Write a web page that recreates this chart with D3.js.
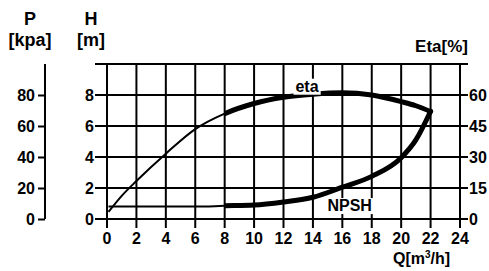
<!DOCTYPE html>
<html>
<head>
<meta charset="utf-8">
<script src="https://cdn.jsdelivr.net/npm/d3@7"></script>
<style>
  body { margin: 0; background: white; }
  text { font-family: "Liberation Sans", Arial, sans-serif; font-weight: bold; fill: black; }
</style>
</head>
<body>
<svg id="chart"></svg>
<script>
// flow rate Q [m3/h]
const Q = [0.1, 1, 2, 4, 6, 8, 10, 12, 14, 16, 18, 20, 21, 22];
// efficiency [%]
const ETA = [3.4, 11.2, 18.4, 31.6, 43.5, 51, 55.9, 58.9, 60.4, 61.1, 60, 56.8, 54.8, 52];
// NPSH [m]
const NPSH = [0.8, 0.8, 0.8, 0.8, 0.8, 0.85, 0.9, 1.1, 1.4, 2.05, 2.75, 3.95, 5.1, 6.95];
// operating range starts here (drawn thick)
const RANGE_FROM = 8;

const Q_TICKS = [0, 2, 4, 6, 8, 10, 12, 14, 16, 18, 20, 22, 24];
const H_TICKS = [0, 2, 4, 6, 8];
const P_TICKS = [0, 20, 40, 60, 80];
const ETA_TICKS = [0, 15, 30, 45, 60];

var width = 489, height = 271;
var svg = d3.select("#chart").attr("width", width).attr("height", height);

/********* SCALES ***********/
var x = d3.scaleLinear().domain([0, 24]).range([107, 460]);
var y = d3.scaleLinear().domain([0, 10]).range([219, 64]);
var p = d3.scaleLinear().domain([0, 100]).range([219, 64]);
var e = d3.scaleLinear().domain([0, 75]).range([219, 64]);

/********* GRID ***********/
var grid = svg.append("g").attr("stroke", "black").attr("stroke-width", 2);
grid.selectAll(".vline")
  .data(Q_TICKS)
  .enter()
  .append("line")
    .attr("x1", function(d) { return x(d); })
    .attr("x2", function(d) { return x(d); })
    .attr("y1", y(10))
    .attr("y2", y(0) + 9);

grid.selectAll(".hline")
  .data(H_TICKS.concat([10]))
  .enter()
  .append("line")
    .attr("x1", x(0) - 12)
    .attr("x2", x(24) + 8)
    .attr("y1", function(d) { return y(d); })
    .attr("y2", function(d) { return y(d); });

/********* AXES LABELS ***********/
svg.selectAll(".qlab")
  .data(Q_TICKS)
  .enter()
  .append("text")
    .attr("x", function(d) { return x(d); })
    .attr("y", y(0) + 25)
    .style("text-anchor", "middle")
    .style("font-size", "16px")
    .text(function(d) { return d; });

svg.selectAll(".hlab")
  .data(H_TICKS)
  .enter()
  .append("text")
    .attr("x", x(0) - 13)
    .attr("y", function(d) { return y(d) + 6; })
    .style("text-anchor", "end")
    .style("font-size", "16px")
    .text(function(d) { return d; });

svg.selectAll(".elab")
  .data(ETA_TICKS)
  .enter()
  .append("text")
    .attr("x", x(24) + 9)
    .attr("y", function(d) { return e(d) + 6; })
    .style("font-size", "16px")
    .text(function(d) { return d; });

// separate pressure axis on the far left
var pAxis = d3.axisLeft(p).tickValues(P_TICKS).tickSize(7).tickSizeOuter(0);
var pg = svg.append("g")
  .attr("transform", "translate(45,0)")
  .call(pAxis);
pg.select(".domain").attr("stroke-width", 2).attr("d", "M0," + p(100) + "V" + p(0));
pg.selectAll(".tick line").attr("stroke-width", 2);
pg.selectAll(".tick text")
  .attr("x", -10)
  .attr("dy", "0.36em")
  .style("font-size", "16px")
  .style("font-weight", "bold")
  .style("font-family", "Liberation Sans, Arial, sans-serif");

/********* TITLES ***********/
function title(tx, ty, str, anchor, size) {
  return svg.append("text")
    .attr("x", tx)
    .attr("y", ty)
    .style("text-anchor", anchor)
    .style("font-size", size + "px")
    .text(str);
}
title(30, 25, "P", "middle", 18);
title(30, 46, "[kpa]", "middle", 18);
title(91, 25, "H", "middle", 18);
title(91, 46, "[m]", "middle", 18);
title(468, 52, "Eta[%]", "end", 17);
var qt = title(393, 264, "Q[m", "start", 16);
qt.append("tspan").attr("dy", -6).style("font-size", "10px").text("3");
qt.append("tspan").attr("dy", 6).text("/h]");

/********* CURVES ***********/
var data = Q.map(function(q, i) { return {q: q, eta: ETA[i], npsh: NPSH[i]}; });

svg.append("clipPath").attr("id", "range")
  .append("rect")
    .attr("x", x(RANGE_FROM)).attr("y", 0)
    .attr("width", width - x(RANGE_FROM)).attr("height", height);

var etaLine = d3.line().curve(d3.curveMonotoneX)
  .x(function(d) { return x(d.q); })
  .y(function(d) { return e(d.eta); });
var npshLine = d3.line().curve(d3.curveMonotoneX)
  .x(function(d) { return x(d.q); })
  .y(function(d) { return y(d.npsh); });

[etaLine, npshLine].forEach(function(line) {
  svg.append("path").datum(data).attr("d", line)
    .attr("fill", "none").attr("stroke", "black").attr("stroke-width", 2);
  svg.append("path").datum(data).attr("d", line)
    .attr("clip-path", "url(#range)")
    .attr("fill", "none").attr("stroke", "black").attr("stroke-width", 5)
    .attr("stroke-linecap", "round");
});

/********* CURVE LABELS ***********/
function curveLabel(q, h, str) {
  var t = svg.append("text")
    .attr("x", x(q))
    .attr("y", y(h) + 6)
    .style("text-anchor", "middle")
    .style("font-size", "16px")
    .text(str);
  var b = t.node().getBBox();
  svg.insert("rect", function() { return t.node(); })
    .attr("x", b.x - 2).attr("y", b.y + 1)
    .attr("width", b.width + 4).attr("height", b.height - 1)
    .attr("fill", "white");
}
curveLabel(13.6, 8.6, "eta");
curveLabel(16.5, 0.9, "NPSH");
</script>
</body>
</html>
